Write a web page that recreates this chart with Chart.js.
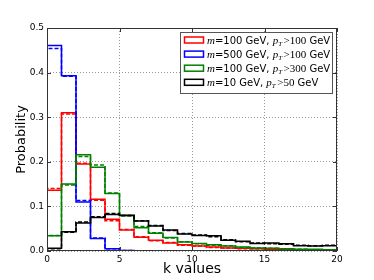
<!DOCTYPE html>
<html>
<head>
<meta charset="utf-8">
<script src="https://cdn.jsdelivr.net/npm/chart.js@4"></script>
<style>
  html, body { margin: 0; padding: 0; background: #fff; }
</style>
</head>
<body>
<canvas id="chart" width="374" height="280"></canvas>
<script>
// bin edges for k (20 unit-wide bins)
const binEdges = [0, 1, 2, 3, 4, 5, 6, 7, 8, 9, 10, 11, 12, 13, 14, 15, 16, 17, 18, 19, 20];
const xTicks = [0, 5, 10, 15, 20];
const yTicks = [0, 0.1, 0.2, 0.3, 0.4, 0.5];

// solid = first sample, dashed = second sample
const m100pt100 = [0.136, 0.310, 0.195, 0.116, 0.071, 0.047, 0.031, 0.024, 0.018, 0.014, 0.011, 0.009, 0.007, 0.006, 0.005, 0.004, 0.003, 0.003, 0.002, 0.002];
const m100pt100b = [0.140, 0.307, 0.197, 0.114, 0.068, 0.048, 0.032, 0.023, 0.019, 0.013, 0.011, 0.008, 0.007, 0.005, 0.005, 0.004, 0.003, 0.002, 0.002, 0.002];
const m500pt100 = [0.461, 0.393, 0.110, 0.028, 0.005, 0.001, 0.0005, 0, 0, 0, 0, 0, 0, 0, 0, 0, 0, 0, 0, 0];
const m500pt100b = [0.454, 0.392, 0.113, 0.029, 0.005, 0.001, 0, 0, 0, 0, 0, 0, 0, 0, 0, 0, 0, 0, 0, 0];
const m100pt300 = [0.034, 0.150, 0.216, 0.188, 0.129, 0.079, 0.052, 0.040, 0.030, 0.020, 0.017, 0.014, 0.011, 0.009, 0.007, 0.006, 0.005, 0.004, 0.004, 0.003];
const m100pt300b = [0.035, 0.148, 0.212, 0.193, 0.130, 0.080, 0.055, 0.041, 0.029, 0.021, 0.016, 0.013, 0.012, 0.008, 0.007, 0.006, 0.005, 0.004, 0.003, 0.003];
const m10pt50 = [0.006, 0.043, 0.063, 0.075, 0.082, 0.080, 0.067, 0.056, 0.047, 0.038, 0.035, 0.034, 0.024, 0.022, 0.017, 0.018, 0.016, 0.012, 0.011, 0.012];
const m10pt50b = [0.005, 0.042, 0.065, 0.077, 0.084, 0.079, 0.068, 0.057, 0.046, 0.039, 0.036, 0.032, 0.025, 0.021, 0.018, 0.016, 0.015, 0.013, 0.012, 0.013];

const legendRows = [
  { color: '#ff0000', m: '100', pt: '100' },
  { color: '#0000ff', m: '500', pt: '100' },
  { color: '#008000', m: '100', pt: '300' },
  { color: '#000000', m: '10', pt: '50' }
];

// histogram outline points (histtype="step")
function stepPoints(vals) {
  const n = vals.length;
  const pts = [{ x: binEdges[0], y: 0 }];
  vals.forEach((v, i) => pts.push({ x: binEdges[i], y: v }));
  pts.push({ x: binEdges[n], y: vals[n - 1] });
  pts.push({ x: binEdges[n], y: 0 });
  return pts;
}

function hist(vals, color, dashed, order) {
  return {
    data: stepPoints(vals),
    borderColor: color,
    borderWidth: 1.5,
    borderDash: dashed ? [4, 2] : [],
    stepped: 'before',
    pointRadius: 0,
    fill: false,
    order: order
  };
}

const frame = {
  id: 'frame',
  afterDatasetsDraw(chart) {
    const { ctx, chartArea: a } = chart;
    const xs = chart.scales.x, ys = chart.scales.y;
    ctx.save();
    ctx.strokeStyle = '#333';
    ctx.lineWidth = 1;
    ctx.strokeRect(a.left + 0.5, a.top + 0.5, a.right - a.left - 1, a.bottom - a.top - 1);
    ctx.beginPath();
    xTicks.forEach(t => {
      const x = Math.round(xs.getPixelForValue(t)) + 0.5;
      ctx.moveTo(x, a.bottom); ctx.lineTo(x, a.bottom - 4);
      ctx.moveTo(x, a.top); ctx.lineTo(x, a.top + 4);
    });
    yTicks.forEach(t => {
      const y = Math.round(ys.getPixelForValue(t)) + 0.5;
      ctx.moveTo(a.left, y); ctx.lineTo(a.left + 4, y);
      ctx.moveTo(a.right, y); ctx.lineTo(a.right - 4, y);
    });
    ctx.stroke();

    // legend box
    const bx = 180.5, by = 32.5, bw = 152, bh = 61;
    ctx.fillStyle = '#fff';
    ctx.fillRect(bx, by, bw, bh);
    ctx.strokeStyle = '#555';
    ctx.strokeRect(bx, by, bw, bh);
    const sans = '"DejaVu Sans", sans-serif';
    const serif = '"Liberation Serif", "DejaVu Serif", serif';
    ctx.textBaseline = 'alphabetic';
    legendRows.forEach((r, i) => {
      const cy = 40 + i * 14.1;
      ctx.fillStyle = '#fff';
      ctx.strokeStyle = r.color;
      ctx.lineWidth = 1.5;
      ctx.strokeRect(184.5, cy - 3, 19, 6);
      ctx.fillStyle = '#000';
      let x = 207;
      const base = cy + 3.5;
      const seg = (t, font, dy) => {
        ctx.font = font;
        ctx.fillText(t, x, base + (dy || 0));
        x += ctx.measureText(t).width;
      };
      seg('m', 'italic 11px ' + serif);
      seg('=' + r.m + ' GeV, ', '10px ' + sans);
      seg('p', 'italic 11px ' + serif);
      seg('T', 'italic 7px ' + serif, 2);
      x += 1.5;
      seg('>' + r.pt, '11px ' + serif);
      seg(' GeV', '10px ' + sans);
    });
    ctx.restore();
  }
};

const font = { family: '"DejaVu Sans", sans-serif', size: 9 };

new Chart(document.getElementById('chart'), {
  type: 'line',
  data: {
    datasets: [
      hist(m100pt100, '#ff0000', false, 8),
      hist(m100pt100b, '#ff0000', true, 7),
      hist(m500pt100, '#0000ff', false, 6),
      hist(m500pt100b, '#0000ff', true, 5),
      hist(m100pt300, '#008000', false, 4),
      hist(m100pt300b, '#008000', true, 3),
      hist(m10pt50, '#000000', false, 2),
      hist(m10pt50b, '#000000', true, 1)
    ]
  },
  options: {
    responsive: false,
    animation: false,
    layout: { padding: { top: 28, right: 37, left: 0, bottom: 0 } },
    plugins: { legend: { display: false }, tooltip: { enabled: false } },
    scales: {
      x: {
        type: 'linear',
        min: 0,
        max: 20,
        afterBuildTicks: s => { s.ticks = xTicks.map(v => ({ value: v })); },
        afterFit: s => { s.height = 29; },
        ticks: { font: font, color: '#000', padding: 3, maxRotation: 0 },
        grid: { color: 'rgba(0,0,0,0.4)', drawTicks: false, lineWidth: 1 },
        border: { display: false, dash: [1, 2] },
        title: { display: true, text: 'k values', color: '#000', padding: { top: 0, bottom: 2 },
                 font: { family: '"DejaVu Sans", sans-serif', size: 14 } }
      },
      y: {
        min: 0,
        max: 0.5,
        afterBuildTicks: s => { s.ticks = yTicks.map(v => ({ value: v })); },
        afterFit: s => { s.width = 47; },
        ticks: { font: font, color: '#000', padding: 3, callback: v => v.toFixed(1) },
        grid: { color: 'rgba(0,0,0,0.4)', drawTicks: false, lineWidth: 1 },
        border: { display: false, dash: [1, 2] },
        title: { display: true, text: 'Probability', color: '#000', padding: { top: 14, bottom: 0 },
                 font: { family: '"DejaVu Sans", sans-serif', size: 13 } }
      }
    }
  },
  plugins: [frame]
});
</script>
</body>
</html>
